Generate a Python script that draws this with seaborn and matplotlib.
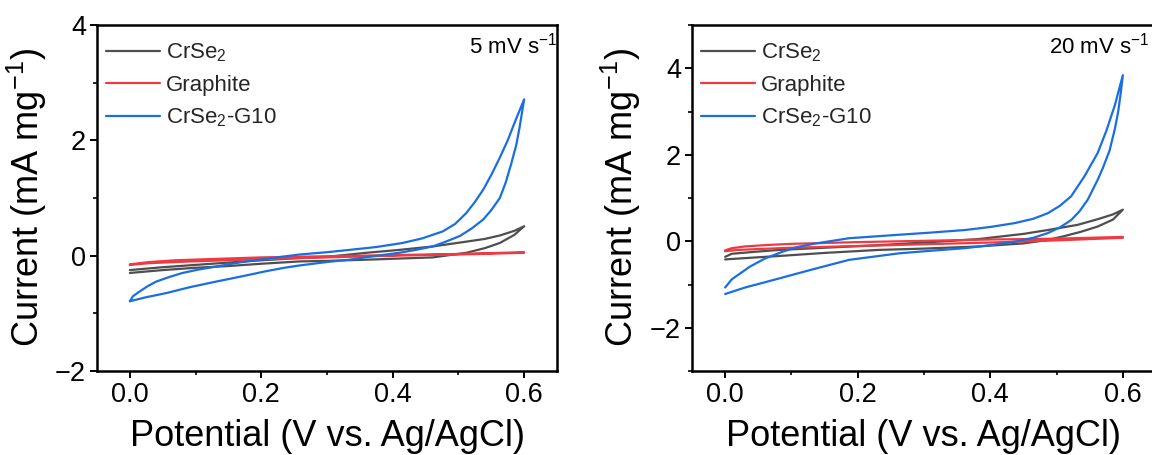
import numpy as np
import pandas as pd
import matplotlib
matplotlib.use("Agg")
import matplotlib.pyplot as plt
from matplotlib.ticker import MultipleLocator, FormatStrFormatter
import seaborn as sns

# ---- cyclic voltammograms, 5 mV/s ----
# CrSe2-G10
g10_5_fwd_v = [0.000, 0.005, 0.015, 0.027, 0.040, 0.060, 0.080, 0.105, 0.131, 0.155, 0.177, 0.210,
               0.258, 0.300, 0.334, 0.375, 0.415, 0.445, 0.476, 0.495, 0.512, 0.525, 0.538, 0.550,
               0.563, 0.575, 0.587, 0.600]
g10_5_fwd_i = [-0.79, -0.70, -0.62, -0.53, -0.45, -0.37, -0.30, -0.24, -0.19, -0.14, -0.10, -0.05,
               0.02, 0.06, 0.10, 0.15, 0.22, 0.30, 0.42, 0.55, 0.74, 0.93, 1.15, 1.40,
               1.70, 2.00, 2.35, 2.71]
g10_5_rev_v = [0.600, 0.597, 0.593, 0.588, 0.580, 0.572, 0.563, 0.550, 0.538, 0.520, 0.502, 0.480,
               0.461, 0.435, 0.410, 0.370, 0.334, 0.300, 0.258, 0.235, 0.207, 0.170, 0.131, 0.090,
               0.055, 0.025, 0.000]
g10_5_rev_i = [2.71, 2.50, 2.22, 1.92, 1.58, 1.27, 1.00, 0.79, 0.63, 0.47, 0.34, 0.24,
               0.16, 0.10, 0.05, -0.01, -0.07, -0.11, -0.17, -0.21, -0.27, -0.36, -0.45, -0.55,
               -0.65, -0.72, -0.79]
# CrSe2
cr_5_fwd_v = [0.000, 0.050, 0.100, 0.150, 0.200, 0.258, 0.300, 0.360, 0.410, 0.461, 0.510, 0.540,
              0.563, 0.585, 0.600]
cr_5_fwd_i = [-0.25, -0.20, -0.16, -0.12, -0.08, -0.04, -0.02, 0.05, 0.10, 0.16, 0.24, 0.29,
              0.35, 0.43, 0.51]
cr_5_rev_v = [0.600, 0.585, 0.563, 0.540, 0.512, 0.461, 0.410, 0.360, 0.300, 0.258, 0.200, 0.150,
              0.100, 0.050, 0.000]
cr_5_rev_i = [0.51, 0.36, 0.22, 0.13, 0.05, -0.03, -0.05, -0.07, -0.09, -0.10, -0.14, -0.18,
              -0.21, -0.25, -0.30]
# Graphite
gr_5_fwd_v = [0.000, 0.030, 0.070, 0.120, 0.200, 0.300, 0.400, 0.500, 0.600]
gr_5_fwd_i = [-0.15, -0.11, -0.08, -0.06, -0.03, -0.01, 0.01, 0.03, 0.06]
gr_5_rev_v = [0.600, 0.500, 0.400, 0.300, 0.200, 0.120, 0.070, 0.030, 0.000]
gr_5_rev_i = [0.05, 0.02, 0.00, -0.03, -0.06, -0.09, -0.11, -0.13, -0.16]

# ---- cyclic voltammograms, 20 mV/s ----
g10_20_fwd_v = [0.000, 0.010, 0.025, 0.037, 0.060, 0.087, 0.110, 0.137, 0.187, 0.262, 0.310, 0.362,
                0.400, 0.437, 0.465, 0.487, 0.505, 0.522, 0.542, 0.562, 0.575, 0.588, 0.600]
g10_20_fwd_i = [-1.07, -0.88, -0.72, -0.59, -0.40, -0.24, -0.13, -0.05, 0.07, 0.15, 0.20, 0.26,
                0.33, 0.42, 0.52, 0.65, 0.82, 1.04, 1.50, 2.04, 2.55, 3.15, 3.84]
g10_20_rev_v = [0.600, 0.597, 0.593, 0.588, 0.580, 0.570, 0.562, 0.547, 0.535, 0.522, 0.505, 0.487,
                0.465, 0.437, 0.400, 0.362, 0.310, 0.262, 0.187, 0.137, 0.062, 0.030, 0.000]
g10_20_rev_i = [3.84, 3.45, 3.00, 2.60, 2.10, 1.70, 1.42, 0.96, 0.70, 0.49, 0.32, 0.19,
                0.08, -0.01, -0.09, -0.16, -0.22, -0.28, -0.43, -0.63, -0.94, -1.07, -1.22]
cr_20_fwd_v = [0.000, 0.010, 0.040, 0.082, 0.150, 0.232, 0.300, 0.382, 0.450, 0.487, 0.532, 0.562,
               0.585, 0.600]
cr_20_fwd_i = [-0.36, -0.29, -0.25, -0.20, -0.15, -0.09, -0.03, 0.05, 0.17, 0.26, 0.38, 0.51,
               0.62, 0.73]
cr_20_rev_v = [0.600, 0.585, 0.562, 0.537, 0.512, 0.487, 0.450, 0.382, 0.300, 0.232, 0.150, 0.082,
               0.030, 0.000]
cr_20_rev_i = [0.73, 0.50, 0.34, 0.22, 0.12, 0.03, -0.05, -0.12, -0.17, -0.20, -0.27, -0.34,
               -0.39, -0.42]
gr_20_fwd_v = [0.000, 0.010, 0.030, 0.060, 0.100, 0.200, 0.300, 0.400, 0.500, 0.600]
gr_20_fwd_i = [-0.21, -0.16, -0.12, -0.09, -0.06, -0.02, 0.01, 0.04, 0.06, 0.10]
gr_20_rev_v = [0.600, 0.500, 0.400, 0.300, 0.200, 0.100, 0.050, 0.020, 0.000]
gr_20_rev_i = [0.08, 0.02, -0.03, -0.07, -0.11, -0.15, -0.18, -0.20, -0.23]

samples = ["CrSe$_2$", "Graphite", "CrSe$_2$-G10"]
colors = ["#4f4f4f", "#ee3a43", "#1a6fe0"]
rates = ["5 mV s$^{-1}$", "20 mV s$^{-1}$"]
ylims = [(-2, 4), (-3, 5)]

loops = {
    (rates[0], samples[0]): (cr_5_fwd_v + cr_5_rev_v, cr_5_fwd_i + cr_5_rev_i),
    (rates[0], samples[1]): (gr_5_fwd_v + gr_5_rev_v, gr_5_fwd_i + gr_5_rev_i),
    (rates[0], samples[2]): (g10_5_fwd_v + g10_5_rev_v, g10_5_fwd_i + g10_5_rev_i),
    (rates[1], samples[0]): (cr_20_fwd_v + cr_20_rev_v, cr_20_fwd_i + cr_20_rev_i),
    (rates[1], samples[1]): (gr_20_fwd_v + gr_20_rev_v, gr_20_fwd_i + gr_20_rev_i),
    (rates[1], samples[2]): (g10_20_fwd_v + g10_20_rev_v, g10_20_fwd_i + g10_20_rev_i),
}

rows = []
for (rate, sample), (vv, ii) in loops.items():
    for k, (v, i) in enumerate(zip(vv, ii)):
        rows.append({"rate": rate, "sample": sample, "step": k, "potential": v, "current": i})
df = pd.DataFrame(rows)

sns.set_theme(style="ticks")
plt.rcParams.update({
    "font.family": ["Liberation Sans", "DejaVu Sans"],
    "mathtext.fontset": "custom",
    "mathtext.rm": "Liberation Sans",
    "mathtext.it": "Liberation Sans:italic",
    "mathtext.bf": "Liberation Sans:bold",
    "mathtext.default": "regular",
    "axes.linewidth": 1.8,
    "axes.edgecolor": "black",
})

W, H = 1152, 455
fig = plt.figure(figsize=(W / 100, H / 100), dpi=100)
boxes = [(97, 25, 557, 371), (692, 25, 1156, 371)]
# right edge of the scan-rate note, in figure pixels
note_right = [557, 1150]

for idx, rate in enumerate(rates):
    x0, y0, x1, y1 = boxes[idx]
    ax = fig.add_axes([x0 / W, 1 - y1 / H, (x1 - x0) / W, (y1 - y0) / H])
    sub = df[df["rate"] == rate]
    sns.lineplot(data=sub, x="potential", y="current", hue="sample", hue_order=samples,
                 palette=colors, sort=False, estimator=None, units="sample",
                 linewidth=1.6, ax=ax)
    ax.set_xlim(-0.05, 0.65)
    ax.set_ylim(*ylims[idx])
    ax.xaxis.set_major_locator(MultipleLocator(0.2))
    ax.xaxis.set_minor_locator(MultipleLocator(0.1))
    ax.yaxis.set_major_locator(MultipleLocator(2))
    ax.yaxis.set_minor_locator(MultipleLocator(1))
    ax.xaxis.set_major_formatter(FormatStrFormatter("%.1f"))
    ax.tick_params(which="major", direction="out", length=5, width=1.4, labelsize=19.5,
                   color="black", labelcolor="black", pad=3)
    ax.tick_params(which="minor", direction="out", length=3, width=1.2, color="black")
    ax.tick_params(top=False, right=False, which="both")
    for s in ax.spines.values():
        s.set_visible(True)
        s.set_color("black")
        s.set_linewidth(1.8)
    ax.set_xlabel("Potential (V vs. Ag/AgCl)", fontsize=26, color="black")
    ax.set_ylabel("Current (mA mg$^{-1}$)", fontsize=26, color="black")
    ax.xaxis.set_label_coords(0.5, -0.14)
    ax.yaxis.set_label_coords(-0.105, 0.5)
    handles, labels = ax.get_legend_handles_labels()
    ax.legend(handles, labels, loc="upper left", bbox_to_anchor=(0.02, 0.952),
              frameon=False, fontsize=16, handlelength=2.4, handletextpad=0.3,
              labelspacing=0.48, borderpad=0, borderaxespad=0)
    ax.text(note_right[idx] / W, 1 - 33 / H, rate, transform=fig.transFigure,
            ha="right", va="top", fontsize=16, color="black")

fig.savefig("out.png", dpi=100)
